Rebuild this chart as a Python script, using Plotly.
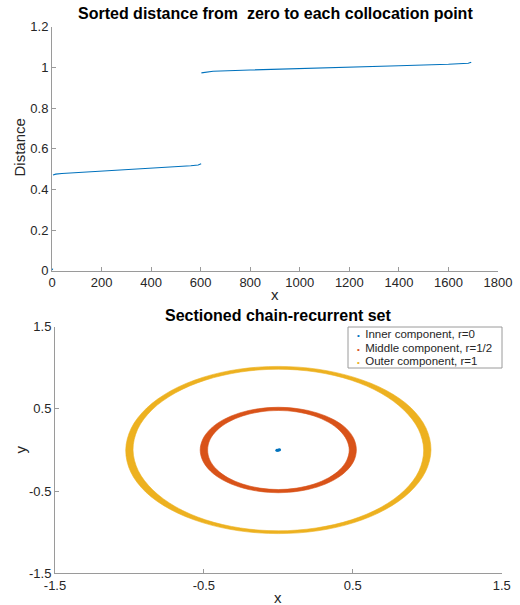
import math
import plotly.graph_objects as go

# ---------------- data ----------------
# Top panel: sorted distance vs index
idx_inner = [1, 2, 3]
dist_inner = [0.003, 0.006, 0.010]
idx_middle = [4, 15, 40, 100, 200, 300, 400, 500, 560, 590, 602]
dist_middle = [0.471, 0.475, 0.478, 0.482, 0.489, 0.496, 0.503, 0.511, 0.516, 0.520, 0.526]
idx_outer = [603, 620, 650, 800, 1000, 1200, 1400, 1600, 1650, 1680, 1692]
dist_outer = [0.973, 0.977, 0.981, 0.987, 0.993, 1.000, 1.008, 1.015, 1.017, 1.020, 1.025]

# Bottom panel: ring bands (edge radii read per angle, degrees)
ring_angles = [0, 15, 30, 45, 60, 75, 90, 105, 120, 135, 150, 165,
               180, 195, 210, 225, 240, 255, 270, 285, 300, 315, 330, 345]
middle_r_in = [0.476, 0.475, 0.475, 0.477, 0.479, 0.480, 0.481, 0.480, 0.479, 0.478, 0.477, 0.476,
               0.475, 0.476, 0.477, 0.478, 0.479, 0.480, 0.481, 0.480, 0.479, 0.478, 0.477, 0.476]
middle_r_out = [0.524, 0.525, 0.526, 0.524, 0.521, 0.520, 0.520, 0.520, 0.521, 0.522, 0.523, 0.524,
                0.525, 0.524, 0.523, 0.522, 0.521, 0.520, 0.520, 0.520, 0.521, 0.522, 0.523, 0.524]
outer_r_in = [0.976, 0.974, 0.973, 0.976, 0.980, 0.982, 0.983, 0.982, 0.981, 0.980, 0.979, 0.978,
              0.976, 0.974, 0.973, 0.976, 0.980, 0.982, 0.983, 0.982, 0.981, 0.980, 0.979, 0.978]
outer_r_out = [1.025, 1.027, 1.028, 1.025, 1.020, 1.018, 1.017, 1.018, 1.019, 1.020, 1.021, 1.023,
               1.025, 1.027, 1.027, 1.024, 1.020, 1.018, 1.017, 1.018, 1.019, 1.020, 1.021, 1.023]
inner_x = [-0.010, -0.004, 0.002, 0.008]
inner_y = [-0.004, -0.002, 0.001, 0.003]

legend_labels = ["Inner component, r=0", "Middle component, r=1/2", "Outer component, r=1"]

BLUE = "#0072BD"
ORANGE = "#D95319"
YELLOW = "#EDB120"
TXT = "#262626"
AX = "#9a9a9a"
FONT = "Liberation Sans"


def band_path(angles, r_in, r_out):
    xs, ys = [], []
    a = angles + [angles[0] + 360]
    ro = r_out + [r_out[0]]
    ri = r_in + [r_in[0]]
    for t, r in zip(a, ro):
        xs.append(r * math.cos(math.radians(t)))
        ys.append(r * math.sin(math.radians(t)))
    xs.append(None); ys.append(None)
    for t, r in zip(reversed(a), reversed(ri)):
        xs.append(r * math.cos(math.radians(t)))
        ys.append(r * math.sin(math.radians(t)))
    return xs, ys


fig = go.Figure()

# top line
fig.add_trace(go.Scatter(
    x=idx_inner + [None] + idx_middle + [None] + idx_outer,
    y=dist_inner + [None] + dist_middle + [None] + dist_outer,
    mode="lines", line=dict(color=BLUE, width=1.1),
    xaxis="x", yaxis="y", showlegend=False, connectgaps=False))

# rings
for col, rin, rout in [(YELLOW, outer_r_in, outer_r_out), (ORANGE, middle_r_in, middle_r_out)]:
    bx, by = band_path(ring_angles, rin, rout)
    fig.add_trace(go.Scatter(
        x=bx, y=by, mode="lines", fill="toself", fillcolor=col,
        line=dict(color=col, width=0.6, shape="spline"),
        xaxis="x2", yaxis="y2", showlegend=False, hoverinfo="skip"))

fig.add_trace(go.Scatter(
    x=inner_x, y=inner_y, mode="markers",
    marker=dict(color=BLUE, size=3), xaxis="x2", yaxis="y2", showlegend=False))

axis_common = dict(showgrid=False, zeroline=False, showline=True, linecolor=AX, linewidth=1,
                   ticks="inside", ticklen=4, tickcolor=AX, mirror=False, automargin=False,
                   layer="above traces",
                   tickfont=dict(family=FONT, size=13, color=TXT))

fig.update_layout(
    width=520, height=605, margin=dict(l=0, r=0, t=0, b=0, pad=0),
    paper_bgcolor="white", plot_bgcolor="white",
    xaxis=dict(domain=[52/520, 498/520], range=[0, 1800], tickvals=list(range(0, 1801, 200)),
               anchor="y", **axis_common),
    yaxis=dict(domain=[(605-270.7)/605, (605-26.7)/605], range=[0, 1.2],
               tickvals=[0, 0.2, 0.4, 0.6, 0.8, 1.0, 1.2],
               ticktext=["0", "0.2", "0.4", "0.6", "0.8", "1", "1.2"],
               anchor="x", **axis_common),
    xaxis2=dict(domain=[55/520, 501.7/520], range=[-1.5, 1.5], tickvals=[-1.5, -0.5, 0.5, 1.5],
                ticktext=["-1.5", "-0.5", "0.5", "1.5"], anchor="y2", **axis_common),
    yaxis2=dict(domain=[(605-573.3)/605, (605-326.7)/605], range=[-1.5, 1.5],
                tickvals=[-1.5, -0.5, 0.5, 1.5], ticktext=["-1.5", "-0.5", "0.5", "1.5"],
                anchor="x2", **axis_common),
)

ann = []


def txt(x, y, s, size=13, bold=False, angle=0, xanchor="center", color=TXT, align="center"):
    ann.append(dict(x=x / 520, y=1 - y / 605, xref="paper", yref="paper", text=("<b>%s</b>" % s) if bold else s,
                    showarrow=False, xanchor=xanchor, yanchor="middle", textangle=angle, align=align,
                    font=dict(family=FONT, size=size, color=color)))


txt(275, 14, "Sorted distance from\u00a0 zero to each collocation point", size=16, bold=True, color="black")
txt(278, 315, "Sectioned chain-recurrent set", size=16, bold=True, color="black")
txt(275, 295, "x", size=15)
txt(278, 597, "x", size=15)
txt(19.5, 148, "Distance", size=15, angle=-90)
txt(19.5, 450, "y", size=15, angle=-90)

# manual legend: one annotation, base font sets the row spacing
rows = []
for lab, col in zip(legend_labels, [BLUE, ORANGE, YELLOW]):
    rows.append("<span style='color:%s;font-size:8px'>\u2022\u00a0</span>"
                "<span style='font-size:11.5px'>\u00a0%s</span>" % (col, lab))
txt(355.3, 347.2, "<br>".join(rows), size=10.4, xanchor="left", align="left")

fig.update_layout(annotations=ann, shapes=[dict(type="rect", xref="paper", yref="paper",
                                                x0=348/520, x1=502/520, y0=1-368/605, y1=1-327/605,
                                                line=dict(color=AX, width=1), fillcolor="white", layer="above")])
fig.write_html("out.html")
